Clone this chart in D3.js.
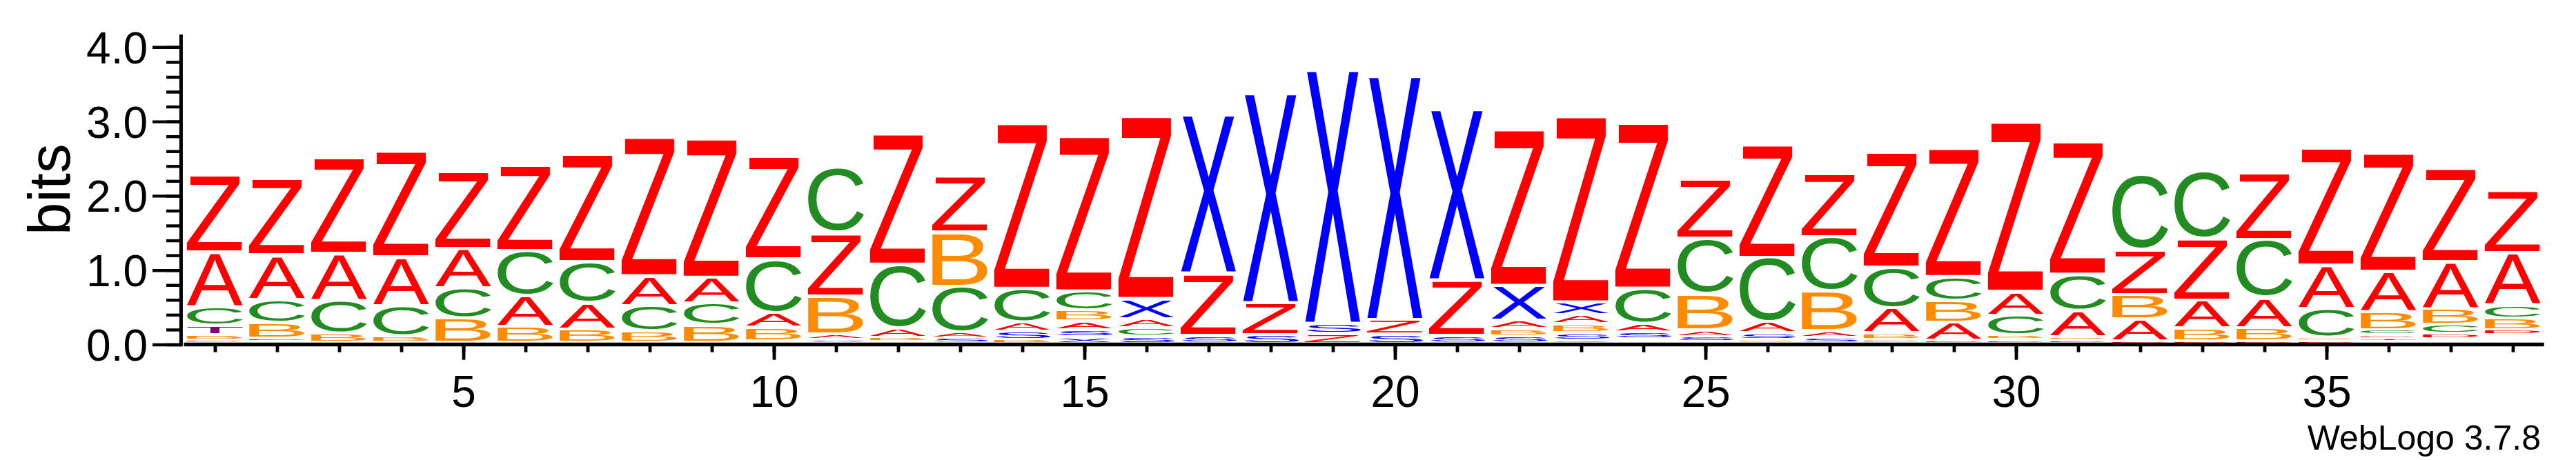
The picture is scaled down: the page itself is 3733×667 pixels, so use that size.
<!DOCTYPE html>
<html>
<head>
<meta charset="utf-8">
<script src="https://cdn.jsdelivr.net/npm/d3@7"></script>
<style>
html,body{margin:0;padding:0;background:#ffffff;}
svg{display:block;}
</style>
</head>
<body>
<svg id="chart" width="3733" height="667"></svg>
<script>
// ---------- data (information content in bits, per symbol, positions 1..38) ----------
const positions = d3.range(1, 39);

const Z = [1.055,1.04,1.31,1.448,1.06,1.161,1.465,1.897,1.897,1.411,
           0.852,1.788,0.76,2.261,2.118,2.496,0.841,0.432,0.13,0.193,
           0.748,2.135,2.543,2.262,0.796,1.535,0.866,1.582,1.758,2.321,
           1.814,0.605,0.832,0.905,1.603,1.616,1.271,0.844];

const A = [0.737,0.60,0.626,0.656,0.535,0.419,0.358,0.40,0.349,0.195,
           0.07,0.12,0.08,0.12,0.115,0.125,0,0,0,0,
           0,0.11,0.126,0.11,0.09,0.141,0.09,0.335,0.245,0.321,
           0.351,0.296,0.372,0.406,0.581,0.546,0.63,0.704];

const B = [0.077,0.204,0.12,0.085,0.326,0.214,0.182,0.148,0.233,0.183,
           0.513,0.06,0.731,0.055,0.151,0,0,0,0,0,
           0,0.10,0.115,0,0.483,0.04,0.529,0.09,0.289,0.06,
           0.05,0.324,0.172,0.178,0.05,0.244,0.214,0.156];

const C = [0.251,0.316,0.45,0.407,0.406,0.604,0.547,0.349,0.295,0.724,
           0.883,0.861,0.616,0.457,0.256,0.108,0,0,0,0,
           0,0,0.04,0.475,0.747,0.875,0.732,0.549,0.321,0.271,
           0.486,1.014,0.911,0.778,0.389,0.07,0.123,0.175];

const S = [0,0,0,0,0,0,0,0,0,0.05,
           0.05,0.04,0.07,0.115,0.10,0.10,0.104,0.118,0.14,0.13,
           0.104,0.095,0.105,0.10,0.07,0.09,0.08,0,0,0,
           0,0,0,0,0,0,0,0];

const X = [0,0,0,0,0,0,0,0,0,0,
           0,0,0,0,0.09,0.273,2.167,2.867,3.471,3.335,
           2.334,0.471,0.168,0,0,0,0,0,0,0,
           0,0,0,0,0,0,0,0];

const T = [0.12,0,0,0,0,0,0,0,0,0,
           0,0,0,0,0,0,0,0,0,0,
           0,0,0,0,0,0,0,0,0,0,
           0,0,0,0,0,0.03,0,0];

const D = [0.03,0.04,0,0,0,0,0,0,0,0,
           0,0,0,0,0,0,0,0,0,0,
           0,0,0,0,0,0,0,0.04,0.04,0.045,
           0.04,0.04,0.04,0.04,0.04,0.05,0.07,0.07];

// small leftover information spread over symbols too small to show
const rest = [0.03,0.05,0.03,0.03,0.03,0.03,0.03,0.03,0.03,0,
              0.02,0,0.02,0.01,0.01,0.015,0.02,0.015,0.016,0.015,
              0.02,0.02,0.02,0.075,0.04,0.03,0.02,0.03,0.02,0.02,
              0.02,0.01,0.01,0.01,0.01,0.05,0.08,0.13];

const xTickLabels = [5,10,15,20,25,30,35];
const yTickLabels = [0,1,2,3,4];
const yMinorTicks = d3.range(0, 21).map(i => i * 0.2);
const yTop = 4.17;

const series = {A, B, C, D, S, T, X, Z};
const colors = {
  A: "#ff0000", Z: "#ff0000", D: "#ff0000",
  C: "#228b22", B: "#ff8c00",
  X: "#0000ff", S: "#0000ff", T: "#800080"
};

const FONT = '"Liberation Sans", Arial, Helvetica, sans-serif';

// ---------- scales ----------
const svg = d3.select("#chart");
const x = d3.scaleLinear().domain([0.5, 38.5]).range([266.5, 3686.5]);
const y = d3.scaleLinear().domain([0, yTop]).range([499.5, 50]);

function draw() {
  const ctx = document.createElement("canvas").getContext("2d");
  ctx.font = "1000px " + FONT;
  const metrics = {};
  Object.keys(series).forEach(k => {
    const m = ctx.measureText(k);
    metrics[k] = {l: m.actualBoundingBoxLeft, r: m.actualBoundingBoxRight,
                  a: m.actualBoundingBoxAscent, d: m.actualBoundingBoxDescent};
  });

  const glyphs = [];
  positions.forEach((p, i) => {
    const items = Object.keys(series)
      .map(k => ({k, h: series[k][i]}))
      .filter(d => d.h > 0)
      .sort((a, b) => a.h - b.h);
    let base = rest[i];
    items.forEach(d => { glyphs.push({p, k: d.k, y0: base, y1: base + d.h}); base += d.h; });
  });

  const slot = x(2) - x(1);
  const halfW = slot * 0.453;

  svg.append("g").selectAll("text.glyph").data(glyphs).join("text")
    .attr("class", "glyph")
    .attr("font-family", FONT)
    .attr("font-size", 1000)
    .attr("fill", d => colors[d.k])
    .attr("transform", d => {
      const m = metrics[d.k];
      const top = y(d.y1), bot = y(d.y0);
      const hp = bot - top;
      const inset = Math.min(2.1, hp * 0.35);
      const bx = x(d.p) - halfW, bw = 2 * halfW;
      const by = top + inset, bh = Math.max(0.3, hp - 2 * inset);
      const sx = bw / (m.l + m.r), sy = bh / (m.a + m.d);
      return `translate(${bx},${by}) scale(${sx},${sy}) translate(${m.l},${m.a})`;
    })
    .text(d => d.k);

  // ---------- y axis ----------
  const axX = 262.4;
  const yMinor = svg.append("g").attr("transform", `translate(${axX},0)`)
    .call(d3.axisLeft(y).tickValues(yMinorTicks).tickSize(21.4).tickFormat(""));
  yMinor.select(".domain").remove();
  yMinor.selectAll("line").attr("stroke", "#000").attr("stroke-width", 4.4);

  const yMajor = svg.append("g").attr("transform", `translate(${axX},0)`)
    .call(d3.axisLeft(y).tickValues(yTickLabels).tickSize(41.4).tickPadding(7)
      .tickFormat(d3.format(".1f")));
  yMajor.select(".domain").remove();
  yMajor.selectAll("line").attr("stroke", "#000").attr("stroke-width", 4.4);
  yMajor.selectAll("text").attr("font-family", FONT).attr("font-size", 64)
    .attr("fill", "#000").attr("dy", "0.36em");

  svg.append("line").attr("x1", axX).attr("x2", axX)
    .attr("y1", y(yTop)).attr("y2", y(0) + 2.8)
    .attr("stroke", "#000").attr("stroke-width", 5);

  // ---------- x axis ----------
  const axY = y(0);
  const xMinor = svg.append("g").attr("transform", `translate(0,${axY})`)
    .call(d3.axisBottom(x).tickValues(positions).tickSize(11.2).tickFormat(""));
  xMinor.select(".domain").remove();
  xMinor.selectAll("line").attr("stroke", "#000").attr("stroke-width", 4.8);

  const xMajor = svg.append("g").attr("transform", `translate(0,${axY})`)
    .call(d3.axisBottom(x).tickValues(xTickLabels).tickSize(22.2).tickFormat(d => d));
  xMajor.select(".domain").remove();
  xMajor.selectAll("line").attr("stroke", "#000").attr("stroke-width", 4.8);
  xMajor.selectAll("text").attr("font-family", FONT).attr("font-size", 64)
    .attr("fill", "#000").attr("y", 90.5).attr("dy", null);

  svg.append("line").attr("x1", x(0.5)).attr("x2", x(38.5) + 0.2)
    .attr("y1", axY).attr("y2", axY)
    .attr("stroke", "#000").attr("stroke-width", 5.6);

  // ---------- labels ----------
  svg.append("text")
    .attr("transform", `translate(100.6,${(y(0) + y(yTop)) / 2}) rotate(-90)`)
    .attr("text-anchor", "middle")
    .attr("font-family", FONT).attr("font-size", 85).attr("fill", "#000")
    .text("bits");

  svg.append("text")
    .attr("x", 3682).attr("y", 651.7)
    .attr("text-anchor", "end")
    .attr("font-family", FONT).attr("font-size", 50).attr("fill", "#000")
    .text("WebLogo 3.7.8");
}

if (document.fonts && document.fonts.ready) { document.fonts.ready.then(draw); } else { draw(); }
</script>
</body>
</html>
